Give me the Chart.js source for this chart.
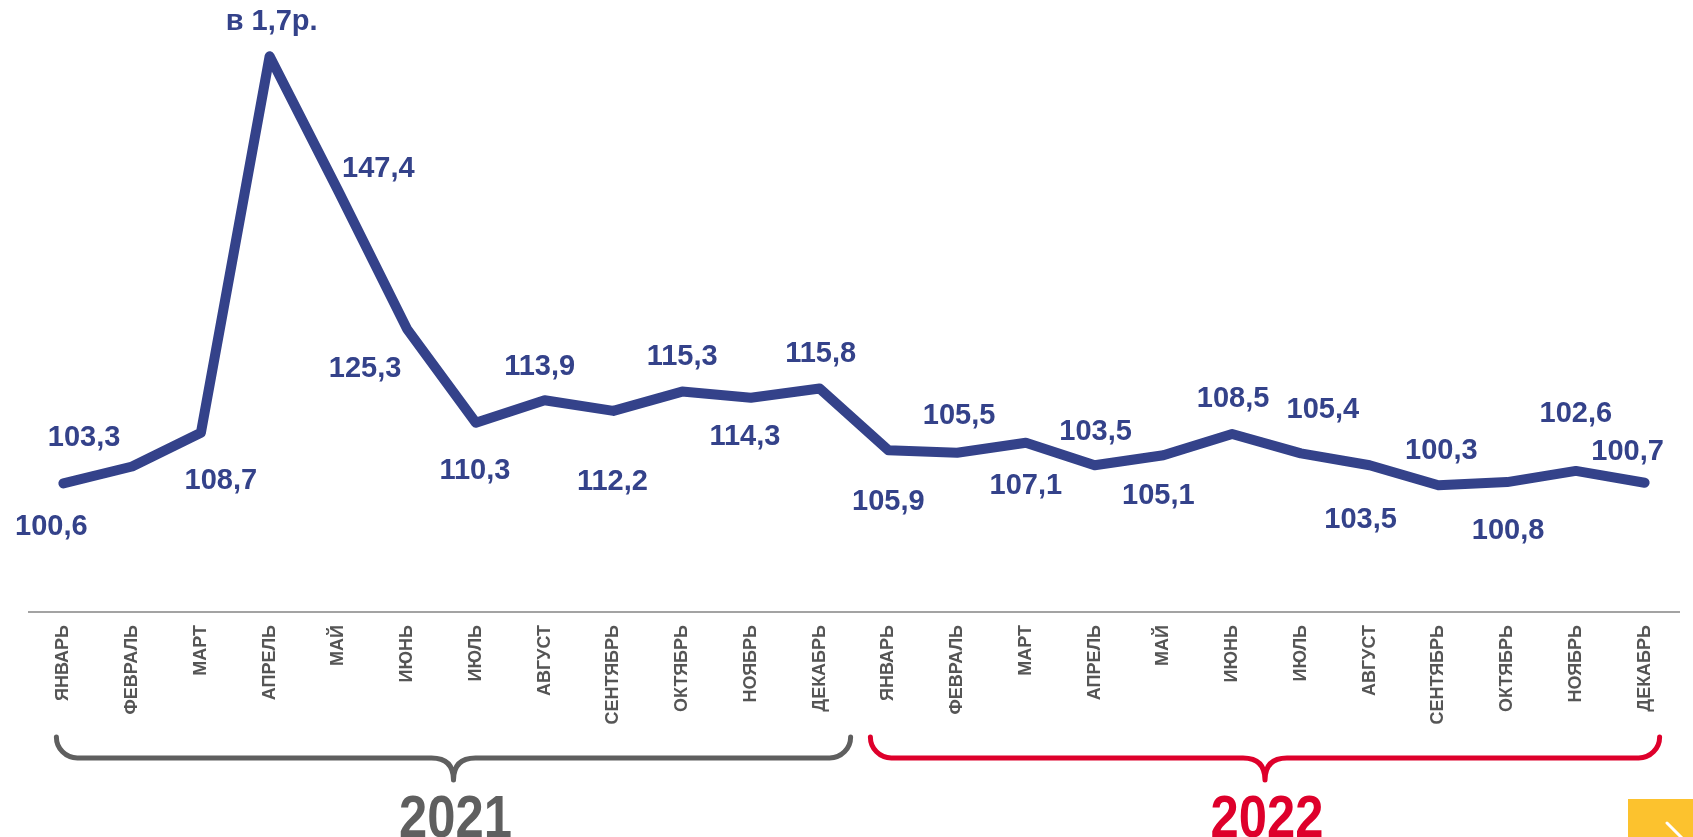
<!DOCTYPE html>
<html>
<head>
<meta charset="utf-8">
<script src="https://cdn.jsdelivr.net/npm/chart.js@4/dist/chart.umd.min.js"></script>
<style>
  html, body { margin: 0; padding: 0; background: #ffffff; }
  #wrap { width: 1693px; height: 837px; position: relative; }
</style>
</head>
<body>
<div id="wrap"><canvas id="c" width="1693" height="837"></canvas></div>
<script>
// ---- data ----
const months = ['ЯНВАРЬ','ФЕВРАЛЬ','МАРТ','АПРЕЛЬ','МАЙ','ИЮНЬ','ИЮЛЬ','АВГУСТ','СЕНТЯБРЬ','ОКТЯБРЬ','НОЯБРЬ','ДЕКАБРЬ'];
const categories = months.concat(months);
const years = ['2021', '2022'];
const values = [100.6, 103.3, 108.7, 169.0, 147.4, 125.3, 110.3, 113.9, 112.2, 115.3, 114.3, 115.8,
                105.9, 105.5, 107.1, 103.5, 105.1, 108.5, 105.4, 103.5, 100.3, 100.8, 102.6, 100.7];
const pointLabels = ['100,6','103,3','108,7','в 1,7р.','147,4','125,3','110,3','113,9','112,2','115,3','114,3','115,8',
                     '105,9','105,5','107,1','103,5','105,1','108,5','105,4','103,5','100,3','100,8','102,6','100,7'];

// ---- styling / placement ----
const BLUE = '#34428A';
const GREY = '#5F5F5F';
const RED = '#DE002B';
const FONT = "'Liberation Sans', Arial, sans-serif";
const labelOffsets = [
  [-12, 44], [-48, -29], [20, 48], [2, -34], [40, -22], [-42, 40], [-1, 48], [-5, -33],
  [-1, 71], [0, -35], [-6, 39], [1, -34],
  [0, 52], [2, -37], [0, 43], [1, -33], [-5, 41], [1, -35], [22, -43], [-9, 55],
  [3, -34], [1, 49], [0, -57], [-17, -31]
];
const yearStyle = [
  { color: GREY, extL: -7, extR: 31 },
  { color: RED, extL: -18, extR: 15 }
];

const labelsPlugin = {
  id: 'pointLabels',
  afterDatasetsDraw(chart) {
    const ctx = chart.ctx;
    const meta = chart.getDatasetMeta(0);
    ctx.save();
    ctx.font = 'bold 29px ' + FONT;
    ctx.fillStyle = BLUE;
    ctx.textAlign = 'center';
    ctx.textBaseline = 'middle';
    meta.data.forEach((pt, i) => {
      const o = labelOffsets[i];
      ctx.fillText(pointLabels[i], pt.x + o[0], pt.y + o[1]);
    });
    ctx.restore();
  }
};

const bracePlugin = {
  id: 'yearBraces',
  afterDraw(chart) {
    const ctx = chart.ctx;
    const xs = chart.scales.x;
    const yTop = 737, yMid = 758, yTip = 780, r = 21, mw = 22;
    years.forEach((yr, k) => {
      const st = yearStyle[k];
      const first = k * 12, last = k * 12 + 11;
      const L = xs.getPixelForValue(first) + st.extL;
      const R = xs.getPixelForValue(last) + st.extR;
      const c = (L + R) / 2;
      ctx.save();
      ctx.strokeStyle = st.color;
      ctx.lineWidth = 5;
      ctx.lineCap = 'round';
      ctx.lineJoin = 'round';
      ctx.beginPath();
      ctx.moveTo(L, yTop);
      ctx.arcTo(L, yMid, L + r, yMid, r);
      ctx.lineTo(c - mw, yMid);
      ctx.quadraticCurveTo(c, yMid, c, yTip);
      ctx.quadraticCurveTo(c, yMid, c + mw, yMid);
      ctx.lineTo(R - r, yMid);
      ctx.arcTo(R, yMid, R, yTop, r);
      ctx.lineTo(R, yTop);
      ctx.stroke();
      // condensed bold year caption
      ctx.translate(c + 2, 837);
      ctx.scale(0.86, 1);
      ctx.font = 'bold 59px ' + FONT;
      ctx.fillStyle = st.color;
      ctx.textAlign = 'center';
      ctx.textBaseline = 'alphabetic';
      ctx.fillText(yr, 0, 0);
      ctx.restore();
    });
    // corner badge
    ctx.save();
    ctx.fillStyle = '#FCC22E';
    ctx.fillRect(1628, 799, 65, 38);
    ctx.strokeStyle = '#ffffff';
    ctx.lineWidth = 3;
    ctx.lineCap = 'round';
    ctx.beginPath();
    ctx.moveTo(1667, 823);
    ctx.lineTo(1682, 838);
    ctx.stroke();
    ctx.restore();
  }
};

new Chart(document.getElementById('c'), {
  type: 'line',
  data: {
    labels: categories,
    datasets: [{
      data: values,
      borderColor: BLUE,
      borderWidth: 10,
      borderCapStyle: 'round',
      borderJoinStyle: 'round',
      pointRadius: 0,
      pointHoverRadius: 0,
      tension: 0,
      fill: false,
      clip: false
    }]
  },
  options: {
    responsive: false,
    animation: false,
    events: [],
    layout: { padding: { left: 29, right: 14, top: 50, bottom: 0 } },
    plugins: { legend: { display: false }, tooltip: { enabled: false }, title: { display: false } },
    scales: {
      x: {
        type: 'category',
        offset: true,
        grid: { display: false, drawTicks: false },
        border: { display: true, color: '#A3A3A3', width: 2 },
        ticks: {
          autoSkip: false,
          minRotation: 90,
          maxRotation: 90,
          padding: 13,
          color: '#555555',
          font: { family: FONT, size: 18, weight: 'bold' }
        },
        afterFit(scale) { scale.height = 225; }
      },
      y: {
        display: false,
        min: 80,
        max: 170
      }
    }
  },
  plugins: [labelsPlugin, bracePlugin]
});
</script>
</body>
</html>
